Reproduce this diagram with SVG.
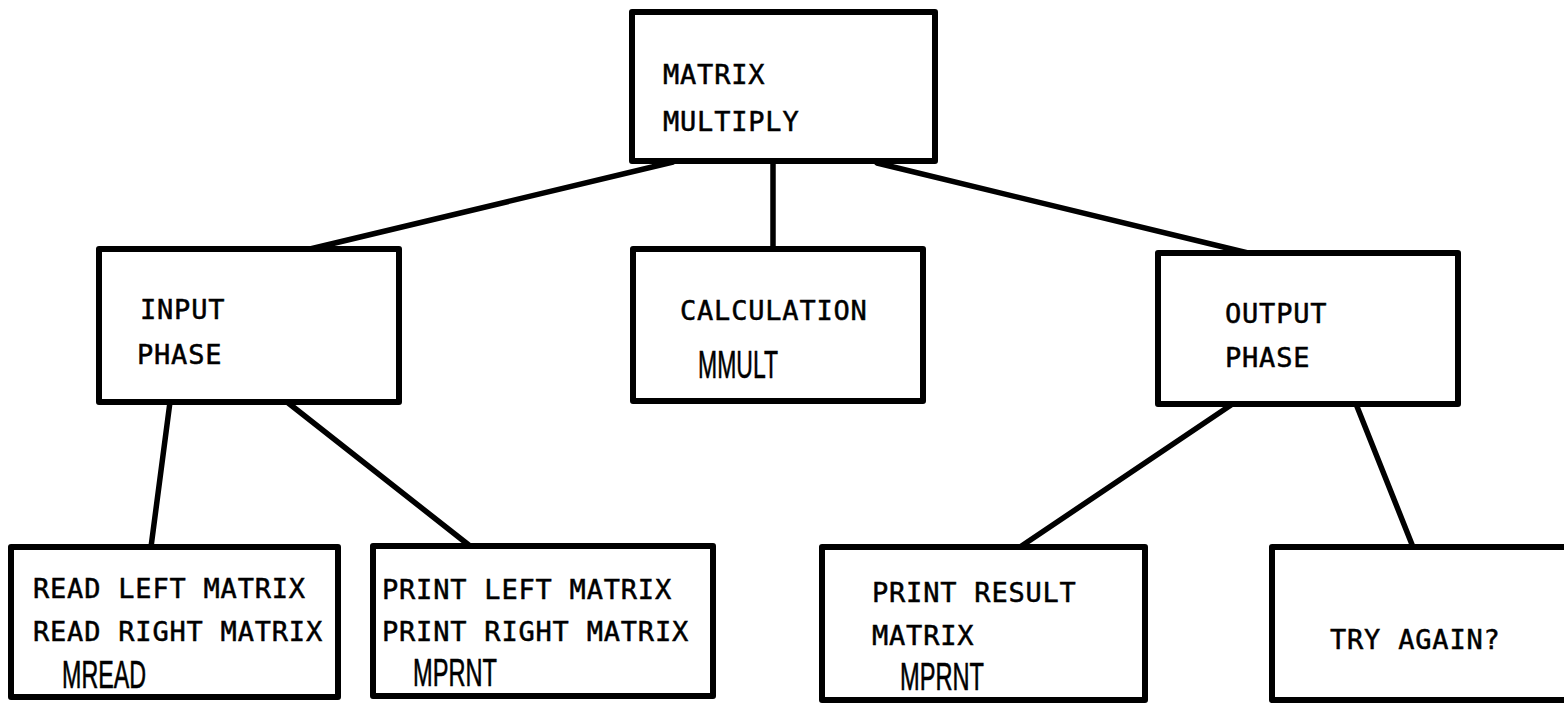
<svg xmlns="http://www.w3.org/2000/svg" width="1564" height="705" viewBox="0 0 1564 705">
<style>
.box{fill:#fff;stroke:#000;stroke-width:6;stroke-linejoin:round}
.conn{stroke:#000;stroke-width:5.5;stroke-linecap:round;fill:none}
.t{font-family:"DejaVu Sans Mono","Liberation Mono",monospace;font-size:27px;letter-spacing:0.8px;fill:#000;stroke:#000;stroke-width:0.5}
.code{font-family:"Liberation Sans","DejaVu Sans",sans-serif;font-size:39px;fill:#000;stroke:#000;stroke-width:0.6}
</style>
<rect width="1564" height="705" fill="#fff"/>
<g id="connectors">
<line class="conn" x1="673" y1="162" x2="310" y2="249"/>
<line class="conn" x1="773" y1="160" x2="773" y2="249"/>
<line class="conn" x1="877" y1="163" x2="1248" y2="253"/>
<line class="conn" x1="170" y1="402" x2="151" y2="547"/>
<line class="conn" x1="287" y1="402" x2="470" y2="546"/>
<line class="conn" x1="1231" y1="405" x2="1020" y2="547"/>
<line class="conn" x1="1356" y1="404" x2="1413" y2="547"/>
</g>
<g id="matrix-multiply">
<rect class="box" x="632" y="12" width="303" height="149"/>
<text class="t" x="663" y="84">MATRIX</text>
<text class="t" x="663" y="131">MULTIPLY</text>
</g>
<g id="input-phase">
<rect class="box" x="99" y="249" width="300" height="153"/>
<text class="t" x="140" y="319">INPUT</text>
<text class="t" x="137" y="364">PHASE</text>
</g>
<g id="calculation">
<rect class="box" x="633" y="249" width="290" height="152"/>
<text class="t" x="680" y="320">CALCULATION</text>
<text class="code" x="698" y="378" textLength="80" lengthAdjust="spacingAndGlyphs">MMULT</text>
</g>
<g id="output-phase">
<rect class="box" x="1158" y="253" width="300" height="151"/>
<text class="t" x="1225" y="323">OUTPUT</text>
<text class="t" x="1225" y="367">PHASE</text>
</g>
<g id="read-matrices">
<rect class="box" x="11" y="547" width="327" height="150"/>
<text class="t" x="33" y="598">READ LEFT MATRIX</text>
<text class="t" x="33" y="641">READ RIGHT MATRIX</text>
<text class="code" x="62" y="688" textLength="84" lengthAdjust="spacingAndGlyphs">MREAD</text>
</g>
<g id="print-matrices">
<rect class="box" x="373" y="546" width="340" height="150"/>
<text class="t" x="382" y="599">PRINT LEFT MATRIX</text>
<text class="t" x="382" y="641">PRINT RIGHT MATRIX</text>
<text class="code" x="413" y="686" textLength="84" lengthAdjust="spacingAndGlyphs">MPRNT</text>
</g>
<g id="print-result">
<rect class="box" x="822" y="547" width="323" height="153"/>
<text class="t" x="872" y="602">PRINT RESULT</text>
<text class="t" x="872" y="645">MATRIX</text>
<text class="code" x="900" y="690" textLength="84" lengthAdjust="spacingAndGlyphs">MPRNT</text>
</g>
<g id="try-again">
<rect class="box" x="1272" y="547" width="300" height="153"/>
<text class="t" x="1330" y="649">TRY AGAIN?</text>
</g>
</svg>
